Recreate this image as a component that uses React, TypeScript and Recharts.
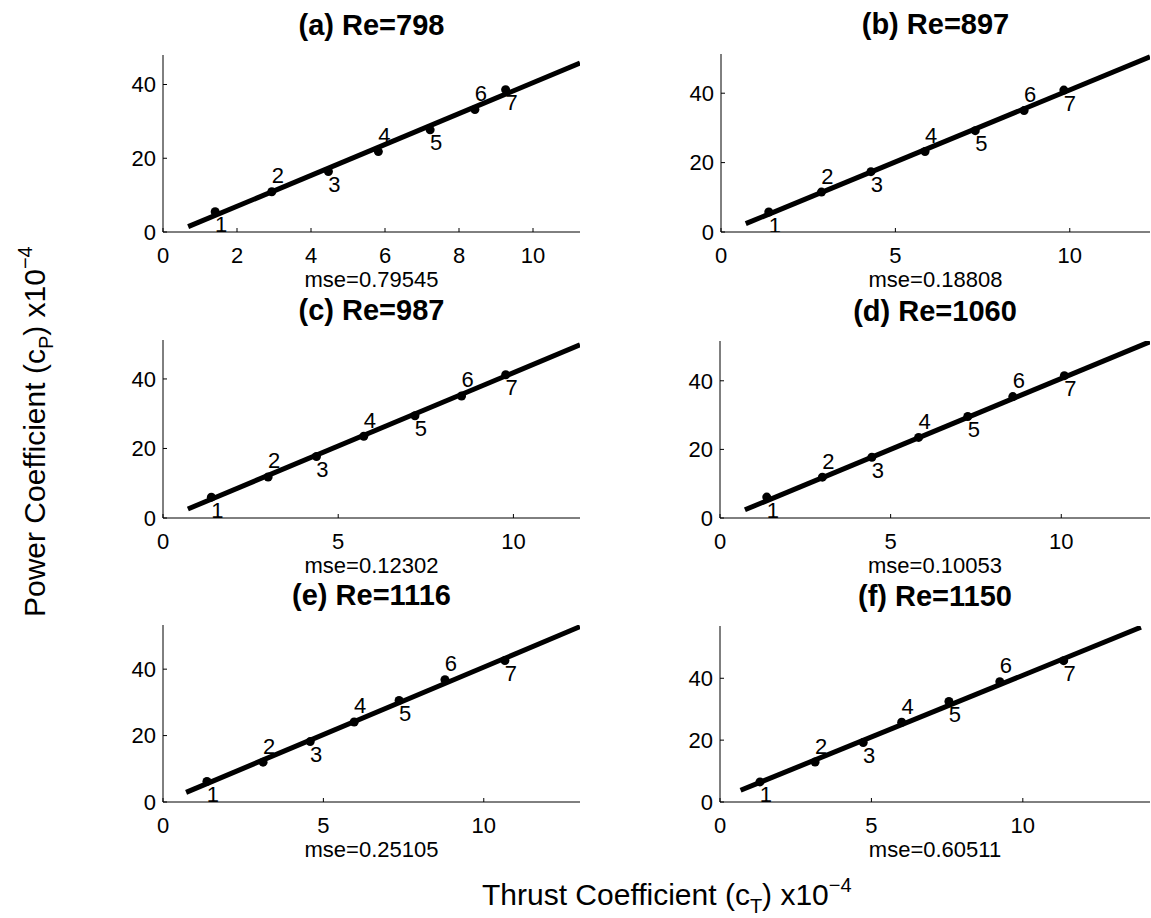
import { Scatter, ScatterChart, XAxis, YAxis } from 'recharts'

// thrust coefficient (x10^-4) of the seven runs, per panel
const thrustA = [1.41, 2.94, 4.47, 5.82, 7.22, 8.43, 9.26]
const thrustB = [1.37, 2.88, 4.3, 5.85, 7.29, 8.69, 9.83]
const thrustC = [1.38, 3.0, 4.38, 5.73, 7.19, 8.52, 9.78]
const thrustD = [1.37, 3.0, 4.45, 5.82, 7.26, 8.58, 10.09]
const thrustE = [1.37, 3.12, 4.59, 5.96, 7.36, 8.79, 10.66]
const thrustF = [1.32, 3.14, 4.73, 6.0, 7.56, 9.24, 11.35]

// power coefficient (x10^-4)
const powerA = [5.5, 10.9, 16.4, 21.8, 27.7, 33.2, 38.6]
const powerB = [5.75, 11.5, 17.4, 23.2, 29.2, 35.0, 40.9]
const powerC = [6.0, 11.8, 17.7, 23.5, 29.4, 35.1, 41.2]
const powerD = [6.1, 11.9, 17.7, 23.5, 29.6, 35.4, 41.5]
const powerE = [6.2, 12.0, 18.2, 24.1, 30.6, 36.8, 42.6]
const powerF = [6.5, 12.9, 19.2, 25.8, 32.5, 38.9, 45.7]

// fitted line end points [thrust, power]
const fitStart = [[0.68, 1.45], [0.71, 2.4], [0.71, 2.6], [0.73, 2.4], [0.72, 2.9], [0.68, 3.8]]
const fitEnd = [[11.27, 45.8], [12.3, 50.5], [11.9, 49.8], [12.6, 51.4], [13.0, 52.8], [13.9, 56.5]]

const titles = ['(a) Re=798', '(b) Re=897', '(c) Re=987', '(d) Re=1060', '(e) Re=1116', '(f) Re=1150']
const mseValues = ['0.79545', '0.18808', '0.12302', '0.10053', '0.25105', '0.60511']

const xMax = [11.27, 12.3, 11.9, 12.6, 13.0, 14.2]
const yMax = [48, 51.3, 51.2, 51.6, 53.3, 56.9]
const xTicks = [[0, 2, 4, 6, 8, 10], [0, 5, 10], [0, 5, 10], [0, 5, 10], [0, 5, 10], [0, 5, 10]]
const yTicks = [0, 20, 40]

const thrust = [thrustA, thrustB, thrustC, thrustD, thrustE, thrustF]
const power = [powerA, powerB, powerC, powerD, powerE, powerF]

// plot boxes in page pixels
const boxes = [
  { left: 163, right: 580, top: 55, bottom: 232 },
  { left: 721, right: 1150, top: 54, bottom: 232 },
  { left: 163, right: 580, top: 340, bottom: 518 },
  { left: 720, right: 1150, top: 341, bottom: 518 },
  { left: 163, right: 580, top: 625, bottom: 802 },
  { left: 720, right: 1150, top: 626, bottom: 802 },
]

const font = '"Liberation Sans", Arial, Helvetica, sans-serif'

function NumberedDot(props: any) {
  const { cx, cy, payload } = props
  const up = payload.n % 2 === 0
  return (
    <g>
      <circle cx={cx} cy={cy} r={4.5} fill="#000" />
      <text x={cx + 6} y={cy + (up ? -16 : 13)} textAnchor="middle" dominantBaseline="central" fontSize={22} fill="#000">
        {payload.n}
      </text>
    </g>
  )
}

function Panel({ i }: { i: number }) {
  const box = boxes[i]
  const pts = thrust[i].map((x, k) => ({ x, y: power[i][k], n: k + 1 }))
  const fit = [
    { x: fitStart[i][0], y: fitStart[i][1] },
    { x: fitEnd[i][0], y: fitEnd[i][1] },
  ]
  const w = box.right - box.left + 60
  const h = box.bottom - box.top + 50
  return (
    <div style={{ position: 'absolute', left: box.left - 50, top: box.top - 10 }}>
      <ScatterChart width={w} height={h} margin={{ top: 10, right: 10, bottom: 0, left: 0 }}>
        <XAxis
          type="number"
          dataKey="x"
          domain={[0, xMax[i]]}
          ticks={xTicks[i]}
          interval={0}
          allowDataOverflow
          height={40}
          axisLine={{ stroke: '#000' }}
          tickLine={{ stroke: '#000' }}
          tickSize={-4}
          tickMargin={19}
          tick={{ fill: '#000', fontSize: 22 }}
        />
        <YAxis
          type="number"
          dataKey="y"
          domain={[0, yMax[i]]}
          ticks={yTicks}
          interval={0}
          allowDataOverflow
          width={50}
          axisLine={{ stroke: '#000' }}
          tickLine={{ stroke: '#000' }}
          tickSize={-4}
          tickMargin={11}
          tick={{ fill: '#000', fontSize: 22 }}
        />
        <Scatter data={fit} line={{ stroke: '#000', strokeWidth: 5 }} shape={() => <g />} isAnimationActive={false} />
        <Scatter data={pts} shape={NumberedDot} isAnimationActive={false} />
      </ScatterChart>
    </div>
  )
}

export default function App() {
  return (
    <div style={{ position: 'absolute', left: 0, top: 0, width: 1151, height: 918, overflow: 'hidden', background: '#fff', fontFamily: font }}>
      {boxes.map((_, i) => <Panel key={i} i={i} />)}
      <svg width={1151} height={918} style={{ position: 'absolute', left: 0, top: 0, pointerEvents: 'none' }}>
        {boxes.map((b, i) => (
          <g key={i}>
            <text x={(b.left + b.right) / 2} y={b.top - 20} textAnchor="middle" fontSize={29} fontWeight="bold" fill="#000">
              {titles[i]}
            </text>
            <text x={(b.left + b.right) / 2} y={b.bottom + 55} textAnchor="middle" fontSize={22} fill="#000">
              mse={mseValues[i]}
            </text>
          </g>
        ))}
        <text transform="translate(45,617) rotate(-90)" fontSize={30} fill="#000">
          Power Coefficient (c<tspan dy={8} fontSize={20}>P</tspan>
          <tspan dy={-8}>) x10</tspan>
          <tspan dy={-13} fontSize={20}>−4</tspan>
        </text>
        <text x={482} y={905} fontSize={30} fill="#000">
          Thrust Coefficient (c<tspan dy={8} fontSize={20}>T</tspan>
          <tspan dy={-8}>) x10</tspan>
          <tspan dy={-13} fontSize={20}>−4</tspan>
        </text>
      </svg>
    </div>
  )
}
